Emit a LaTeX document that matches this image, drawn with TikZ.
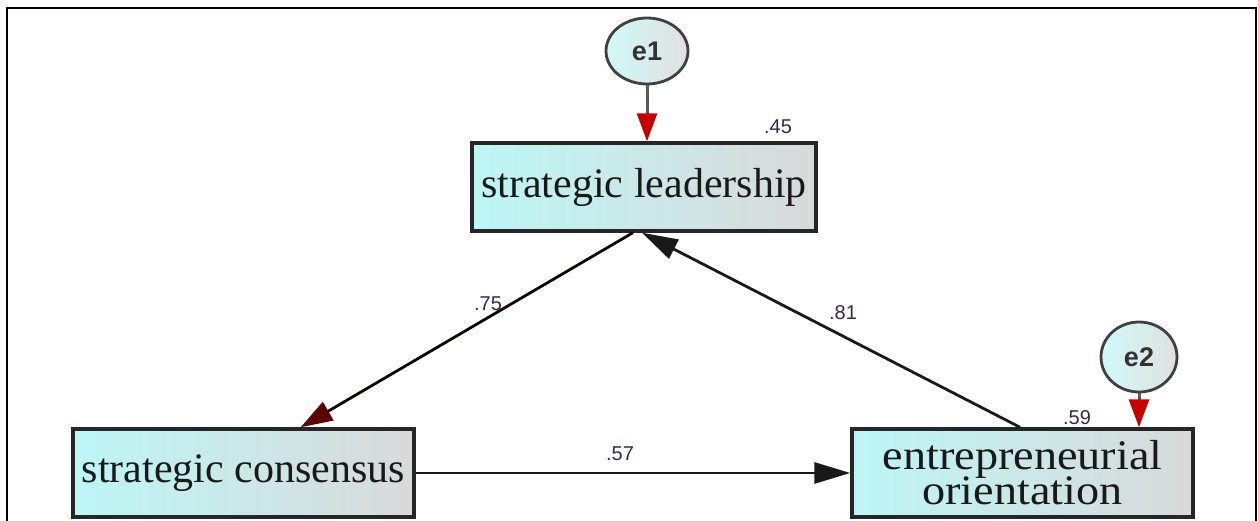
\documentclass[tikz,border=0pt]{standalone}
\usepackage{fontspec}
\setmainfont{Liberation Serif}
\newfontfamily\labfont{Liberation Sans}
\usetikzlibrary{arrows.meta,shapes.geometric,calc}
\definecolor{boxcyan}{HTML}{BDF6F6}
\definecolor{boxgray}{HTML}{D9D9D9}
\definecolor{labpurple}{HTML}{3E2450}
\definecolor{headred}{HTML}{C40000}
\definecolor{headmaroon}{HTML}{5A0505}
\tikzset{
  var/.style={draw=black!85, line width=3.4pt, left color=boxcyan, right color=boxgray,
    minimum width=341pt, minimum height=88pt, inner sep=0pt,
    font=\fontsize{42}{40}\selectfont, align=center, text=black!90},
  err/.style={ellipse, draw=black!75, line width=2.8pt, left color=boxcyan!70!white, right color=boxgray!80!white,
    inner sep=0pt, font=\labfont\bfseries\fontsize{27}{27}\selectfont, text=black!80},
  lab/.style={font=\labfont\fontsize{20}{20}\selectfont, text=labpurple, inner sep=0pt},
  errarrow/.style={draw=black!65, line width=3pt, -{Triangle[length=28pt,width=20pt,color=headred]}},
  patharrow/.style={draw=black!90, line width=2.8pt, -{Triangle[length=36pt,width=21pt]}},
}
\begin{document}
\begin{tikzpicture}[x=1pt,y=-1pt]
\useasboundingbox (0,0) rectangle (1258,521);
\clip (0,0) rectangle (1258,521);
% frame
\draw[line width=1.8pt] (7,545) -- (7,8) -- (1256,8) -- (1256,545);
% nodes
\node[var, minimum width=344pt] (SL) at (644,187) {strategic leadership};
\node[var] (SC) at (243.5,473) {strategic consensus};
\node[var] (EO) at (1022.5,473) {\scalebox{1.1}[1]{entrepreneurial}\\[-5pt]\scalebox{1.1}[1]{orientation}};
\node[err, minimum width=82pt, minimum height=66pt] (e1) at (647,51) {e1};
\node[err, minimum width=76pt, minimum height=70pt] (e2) at (1139,357) {e2};
% connectors
\draw[errarrow] (e1.south) -- (e1.south |- SL.north);
\draw[errarrow] (e2.south) -- (e2.south |- EO.north);
\draw[draw=black!85!headmaroon, line width=2.8pt, -{Triangle[length=32pt,width=21pt,color=headmaroon]}]
  ($(SL.south west)!0.468!(SL.south east)$) -- ($(SC.north west)!0.666!(SC.north east)$);
\draw[patharrow] ($(EO.north west)!0.493!(EO.north east)$) -- ($(SL.south west)!0.494!(SL.south east)$);
\draw[patharrow] (SC.east) -- (EO.west);
% labels
\node[lab] (l45) at (778,127) {.45};
\node[lab] (l75) at (488,304) {.75};
\node[lab] (l81) at (843,313) {.81};
\node[lab] (l57) at (620,454) {.57};
\node[lab] (l59) at (1077,418) {.59};
\end{tikzpicture}
\end{document}
